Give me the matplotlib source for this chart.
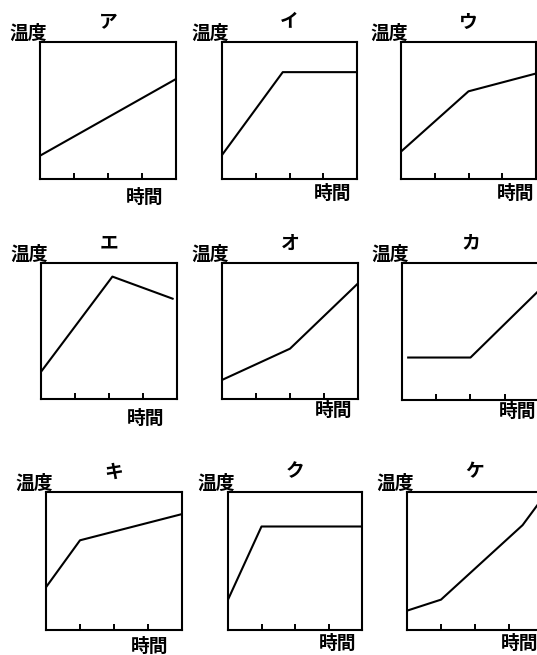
import matplotlib
matplotlib.use("Agg")
import matplotlib.pyplot as plt

plt.rcParams['font.family'] = ['Noto Sans CJK JP', 'DejaVu Sans']

W, H = 537, 655

# panel names and line data (time 0..4, temperature 0..1)
names = ['ア', 'イ', 'ウ', 'エ', 'オ', 'カ', 'キ', 'ク', 'ケ']
xs_a, ys_a = [0, 4], [0.17, 0.73]
xs_i, ys_i = [0, 1.8, 4], [0.175, 0.78, 0.78]
xs_u, ys_u = [0, 2, 4], [0.20, 0.64, 0.77]
xs_e, ys_e = [0, 2.1, 3.9], [0.20, 0.90, 0.735]
xs_o, ys_o = [0, 2, 4], [0.14, 0.37, 0.85]
xs_ka, ys_ka = [0.15, 2, 4], [0.31, 0.31, 0.80]
xs_ki, ys_ki = [0, 1, 4], [0.31, 0.65, 0.84]
xs_ku, ys_ku = [0, 1, 4], [0.22, 0.75, 0.75]
xs_ke, ys_ke = [0, 1, 3.4, 4], [0.14, 0.22, 0.76, 0.96]
series = [(xs_a, ys_a), (xs_i, ys_i), (xs_u, ys_u),
          (xs_e, ys_e), (xs_o, ys_o), (xs_ka, ys_ka),
          (xs_ki, ys_ki), (xs_ku, ys_ku), (xs_ke, ys_ke)]
tick_pos = [1, 2, 3]
y_label = '温度'
x_label = '時間'

# pixel boxes: left, top, right, bottom, 時間 dx, 時間 dy
boxes = [
    (40, 42, 176, 179, -31, 18), (222, 42, 357, 179, -24, 14), (401, 42, 536, 179, -20, 14),
    (41, 263, 177, 399, -31, 19), (222, 263, 358, 399, -24, 11), (402, 263, 539, 400, -21, 11),
    (46, 492, 182, 630, -32, 16), (228, 492, 362, 630, -24, 13), (407, 492, 543, 630, -23, 13),
]

fig = plt.figure(figsize=(W / 100, H / 100), dpi=100)
fig.patch.set_facecolor('white')

for name, (xs, ys), (l, t, r, b, jdx, jdy) in zip(names, series, boxes):
    ax = fig.add_axes([l / W, 1 - b / H, (r - l) / W, (b - t) / H])
    ax.plot(xs, ys, color='black', lw=1.5, solid_capstyle='butt')
    ax.set_xlim(0, 4)
    ax.set_ylim(0, 1)
    ax.set_xticks(tick_pos)
    ax.set_xticklabels([])
    ax.set_yticks([])
    ax.tick_params(axis='x', direction='in', length=4, width=1.4, color='black')
    for s in ax.spines.values():
        s.set_linewidth(1.5)
        s.set_color('black')

    ax.annotate(y_label, xy=(0, 1), xycoords='axes fraction', xytext=(-12, 9),
                textcoords='offset pixels', ha='center', va='center',
                fontsize=13.5, fontweight='bold')
    ax.annotate(name, xy=(0.5, 1), xycoords='axes fraction', xytext=(0, 20),
                textcoords='offset pixels', ha='center', va='center',
                fontsize=13.5, fontweight='bold')
    ax.annotate(x_label, xy=(1, 0), xycoords='axes fraction', xytext=(jdx, -jdy),
                textcoords='offset pixels', ha='center', va='center',
                fontsize=13.5, fontweight='bold')

fig.savefig('out.png', dpi=100, facecolor='white')
